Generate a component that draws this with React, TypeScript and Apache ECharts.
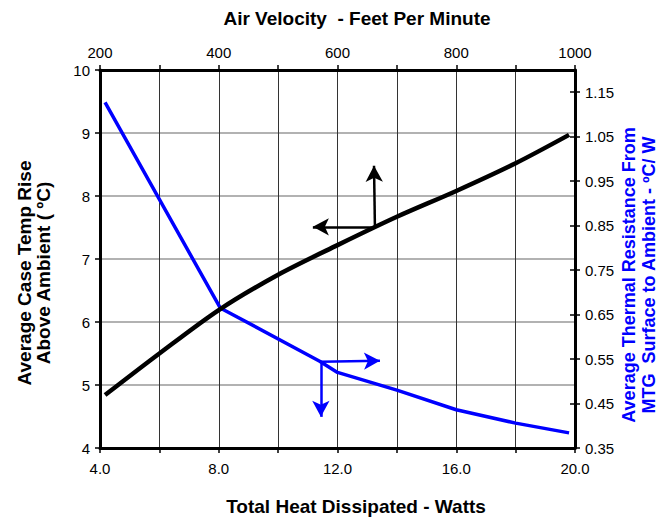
import React, { useEffect, useRef } from "react";
import * as echarts from "echarts";

// Bottom axis: Total Heat Dissipated (Watts)
const tempX = [4.17, 6, 8, 10, 12, 14, 16, 18, 19.8];
// Left axis: Average Case Temp Rise (°C)
const tempY = [4.84, 5.5, 6.19, 6.75, 7.22, 7.67, 8.08, 8.52, 8.97];

// Blue curve: thermal resistance (°C/W) on right axis
const resX = [4.17, 8.05, 11.4, 12.0, 14, 16, 18, 19.8];
const resY = [1.127, 0.665, 0.545, 0.52, 0.48, 0.436, 0.406, 0.384];

// Right axis tick labels
const rightTicks = [0.35, 0.45, 0.55, 0.65, 0.75, 0.85, 0.95, 1.05, 1.15];

// Annotation arrows (data coordinates)
const blackPivot = [13.26, 7.51];
const blackLeftTip = [11.17, 7.51];
const blackUpTip = [13.23, 8.48];
const bluePivot = [11.44, 0.544];
const blueRightTip = [13.43, 0.546];
const blueDownTip = [11.44, 0.42];

const FONT = '"Liberation Sans", Arial, sans-serif';

export default function App() {
  const ref = useRef<HTMLDivElement>(null);
  useEffect(() => {
    if (!ref.current) return;
    const chart = echarts.init(ref.current, null, { renderer: "svg" });
    const axisLine = { show: true, lineStyle: { color: "#000", width: 3 } };
    const labelStyle = { color: "#000", fontSize: 15, fontFamily: FONT };
    chart.setOption({
      animation: false,
      backgroundColor: "#fff",
      grid: { left: 100, right: 84, top: 70, bottom: 69, containLabel: false },
      xAxis: [
        {
          type: "value",
          position: "bottom",
          min: 4,
          max: 20,
          interval: 2,
          axisLine,
          axisTick: { show: true, length: 5, lineStyle: { color: "#000", width: 1.5 } },
          axisLabel: {
            ...labelStyle,
            margin: 13,
            formatter: (v: number) => (Math.round(v) % 4 === 0 ? v.toFixed(1) : ""),
          },
          splitLine: { show: true, lineStyle: { color: "#333", width: 1 } },
        },
        {
          type: "value",
          position: "top",
          min: 200,
          max: 1000,
          interval: 100,
          axisLine,
          axisTick: { show: true, length: 5, lineStyle: { color: "#000", width: 1.5 } },
          axisLabel: {
            ...labelStyle,
            margin: 10,
            formatter: (v: number) => (Math.round(v) % 200 === 0 ? String(v) : ""),
          },
          splitLine: { show: false },
        },
      ],
      yAxis: [
        {
          type: "value",
          position: "left",
          min: 4,
          max: 10,
          interval: 1,
          axisLine,
          axisTick: { show: true, length: 5, lineStyle: { color: "#000", width: 1.5 } },
          axisLabel: { ...labelStyle, margin: 10 },
          splitLine: { show: true, lineStyle: { color: "#999", width: 1.5 } },
        },
        {
          type: "value",
          position: "right",
          min: 0.35,
          max: 1.2,
          interval: 0.05,
          axisLine,
          axisTick: {
            show: true,
            length: 5,
            customValues: rightTicks,
            lineStyle: { color: "#000", width: 1.5 },
          },
          axisLabel: {
            ...labelStyle,
            margin: 10,
            customValues: rightTicks,
            formatter: (v: number) => {
              const k = Math.round((v - 0.35) / 0.05);
              return k % 2 === 0 ? v.toFixed(2) : "";
            },
          },
          splitLine: { show: false },
        },
        {
          type: "value",
          position: "right",
          min: 0.35,
          max: 1.2,
          interval: 0.05,
          axisLine: { show: false },
          axisTick: {
            show: true,
            inside: true,
            length: 5,
            customValues: rightTicks,
            lineStyle: { color: "#000", width: 1.5 },
          },
          axisLabel: { show: false },
          splitLine: { show: false },
        },
      ],
      series: [
        {
          type: "line",
          name: "Temp Rise",
          xAxisIndex: 0,
          yAxisIndex: 0,
          data: tempX.map((x, i) => [x, tempY[i]]),
          smooth: 0.3,
          showSymbol: false,
          lineStyle: { color: "#000", width: 4.5 },
          z: 5,
          markLine: {
            silent: true,
            symbol: ["none", "arrow"],
            symbolSize: [13, 16],
            label: { show: false },
            lineStyle: { color: "#000", width: 2.5, type: "solid" },
            data: [
              [{ coord: blackPivot }, { coord: blackLeftTip }],
              [{ coord: blackPivot }, { coord: blackUpTip }],
            ],
          },
        },
        {
          type: "line",
          name: "Thermal Resistance",
          xAxisIndex: 0,
          yAxisIndex: 1,
          data: resX.map((x, i) => [x, resY[i]]),
          smooth: false,
          showSymbol: false,
          lineStyle: { color: "#0000ff", width: 3.5 },
          z: 4,
          markLine: {
            silent: true,
            symbol: ["none", "arrow"],
            symbolSize: [13, 16],
            label: { show: false },
            lineStyle: { color: "#0000ff", width: 2.5, type: "solid" },
            data: [
              [{ coord: bluePivot }, { coord: blueRightTip }],
              [{ coord: bluePivot }, { coord: blueDownTip }],
            ],
          },
        },
      ],
      graphic: [
        {
          type: "text",
          x: 357,
          y: 18,
          style: {
            text: "Air Velocity  - Feet Per Minute",
            align: "center",
            verticalAlign: "middle",
            fontFamily: FONT,
            fontWeight: "bold",
            fontSize: 19,
            fill: "#000",
          },
        },
        {
          type: "text",
          x: 356,
          y: 506,
          style: {
            text: "Total Heat Dissipated - Watts",
            align: "center",
            verticalAlign: "middle",
            fontFamily: FONT,
            fontWeight: "bold",
            fontSize: 19,
            fill: "#000",
          },
        },
        {
          type: "text",
          x: 34,
          y: 273,
          rotation: Math.PI / 2,
          style: {
            text: "Average Case Temp Rise\nAbove Ambient ( ºC)",
            align: "center",
            verticalAlign: "middle",
            fontFamily: FONT,
            fontWeight: "bold",
            fontSize: 19,
            lineHeight: 19,
            fill: "#000",
          },
        },
        {
          type: "text",
          x: 639,
          y: 275,
          rotation: Math.PI / 2,
          style: {
            text: "Average Thermal Resistance From\nMTG  Surface to Ambient - ºC/ W",
            align: "center",
            verticalAlign: "middle",
            fontFamily: FONT,
            fontWeight: "bold",
            fontSize: 18,
            lineHeight: 20,
            fill: "#0000ff",
          },
        },
      ],
    });
    return () => chart.dispose();
  }, []);
  return (
    <div
      ref={ref}
      style={{ position: "fixed", left: 0, top: 0, width: 659, height: 517 }}
    />
  );
}
